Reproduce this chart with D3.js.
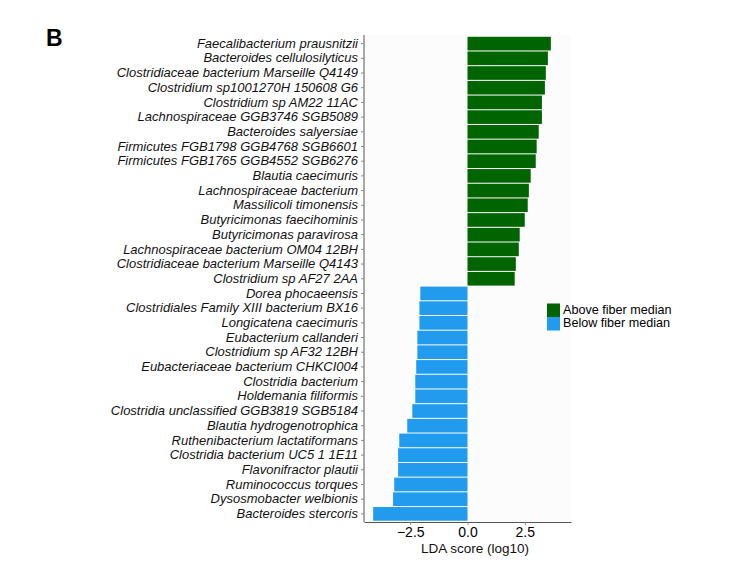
<!DOCTYPE html>
<html>
<head>
<meta charset="utf-8">
<script src="https://cdn.jsdelivr.net/npm/d3@7"></script>
<style>
  body { margin: 0; background: #fff; }
  text { font-family: "Liberation Sans", Arial, sans-serif; }
</style>
</head>
<body>
<div id="canvas"></div>
<script>
"use strict"

/* Data: taxa (top to bottom) and their LDA scores */
let taxa = [
  "Faecalibacterium prausnitzii",
  "Bacteroides cellulosilyticus",
  "Clostridiaceae bacterium Marseille Q4149",
  "Clostridium sp1001270H 150608 G6",
  "Clostridium sp AM22 11AC",
  "Lachnospiraceae GGB3746 SGB5089",
  "Bacteroides salyersiae",
  "Firmicutes FGB1798 GGB4768 SGB6601",
  "Firmicutes FGB1765 GGB4552 SGB6276",
  "Blautia caecimuris",
  "Lachnospiraceae bacterium",
  "Massilicoli timonensis",
  "Butyricimonas faecihominis",
  "Butyricimonas paravirosa",
  "Lachnospiraceae bacterium OM04 12BH",
  "Clostridiaceae bacterium Marseille Q4143",
  "Clostridium sp AF27 2AA",
  "Dorea phocaeensis",
  "Clostridiales Family XIII bacterium BX16",
  "Longicatena caecimuris",
  "Eubacterium callanderi",
  "Clostridium sp AF32 12BH",
  "Eubacteriaceae bacterium CHKCI004",
  "Clostridia bacterium",
  "Holdemania filiformis",
  "Clostridia unclassified GGB3819 SGB5184",
  "Blautia hydrogenotrophica",
  "Ruthenibacterium lactatiformans",
  "Clostridia bacterium UC5 1 1E11",
  "Flavonifractor plautii",
  "Ruminococcus torques",
  "Dysosmobacter welbionis",
  "Bacteroides stercoris"
];

let ldaScores = [
  3.64, 3.51, 3.42, 3.38, 3.25, 3.25, 3.11, 3.02, 2.98, 2.76, 2.68,
  2.63, 2.50, 2.28, 2.24, 2.11, 2.06,
  -2.06, -2.10, -2.10, -2.19, -2.19, -2.24, -2.28, -2.28, -2.41,
  -2.63, -2.98, -3.03, -3.03, -3.20, -3.25, -4.12
];

let groups = ["Above fiber median", "Below fiber median"];
let groupColors = ["#006400", "#209bee"];
let xTicks = [-2.5, 0, 2.5];

/* Drawing setup */
let svgWidth = 754;
let svgHeight = 583;
let panel = { left: 364, right: 571, top: 35, bottom: 522 };

let svg = d3.select("#canvas")
    .append("svg")
    .attr("width", svgWidth)
    .attr("height", svgHeight);

let data = taxa.map(function (t, i) {
  return { name: t, value: ldaScores[i], group: ldaScores[i] >= 0 ? groups[0] : groups[1] };
});

let xScale = d3.scaleLinear()
    .domain([-4.52, 4.52])
    .range([panel.left, panel.right]);

let yScale = d3.scaleBand()
    .domain(taxa)
    .range([panel.top + 1.5, panel.bottom - 1])
    .paddingInner(0.07)
    .paddingOuter(0.02);

let colorScale = d3.scaleOrdinal()
    .domain(groups)
    .range(groupColors);

/* panel background */
svg.append("rect")
    .attr("x", panel.left)
    .attr("y", panel.top)
    .attr("width", panel.right - panel.left)
    .attr("height", panel.bottom - panel.top)
    .attr("fill", "#fcfcfc");

/* bars */
svg.selectAll("rect.bar")
    .data(data)
    .join("rect")
    .attr("class", "bar")
    .attr("x", function (d) { return xScale(Math.min(0, d.value)); })
    .attr("y", function (d) { return yScale(d.name); })
    .attr("width", function (d) { return Math.abs(xScale(d.value) - xScale(0)); })
    .attr("height", yScale.bandwidth())
    .attr("fill", function (d) { return colorScale(d.group); });

/* y axis */
let yAxis = svg.append("g")
    .attr("transform", "translate(" + panel.left + ",0)")
    .call(d3.axisLeft(yScale).tickSize(3).tickPadding(3).tickSizeOuter(0));
yAxis.select(".domain").attr("stroke", "#555").attr("d", "M0," + panel.top + "V" + panel.bottom);
yAxis.selectAll(".tick line").attr("stroke", "#888");
yAxis.selectAll(".tick text")
    .attr("font-size", 13)
    .attr("font-style", "italic")
    .attr("fill", "#111");

/* x axis */
let xAxis = svg.append("g")
    .attr("transform", "translate(0," + panel.bottom + ")")
    .call(d3.axisBottom(xScale).tickValues(xTicks).tickFormat(d3.format(".1f")).tickSize(3).tickPadding(2).tickSizeOuter(0));
xAxis.select(".domain").attr("stroke", "#555");
xAxis.selectAll(".tick line").attr("stroke", "#888");
xAxis.selectAll(".tick text")
    .attr("font-size", 14)
    .attr("fill", "#000");

/* axis title */
svg.append("text")
    .attr("x", 475)
    .attr("y", 553)
    .attr("text-anchor", "middle")
    .attr("font-size", 13.5)
    .attr("fill", "#111")
    .text("LDA score (log10)");

/* legend */
let legendStep = 13.5;
let legend = svg.append("g")
    .attr("transform", "translate(547,303.5)");
groups.forEach(function (g, i) {
  legend.append("rect")
      .attr("x", 0)
      .attr("y", i * legendStep)
      .attr("width", 13)
      .attr("height", legendStep)
      .attr("fill", groupColors[i]);
  legend.append("text")
      .attr("x", 16)
      .attr("y", i * legendStep + 7)
      .attr("dominant-baseline", "middle")
      .attr("font-size", 12.6)
      .attr("fill", "#000")
      .text(g);
});

/* panel letter */
svg.append("text")
    .attr("x", 46)
    .attr("y", 46)
    .attr("font-size", 23)
    .attr("font-weight", "bold")
    .text("B");
</script>
</body>
</html>
